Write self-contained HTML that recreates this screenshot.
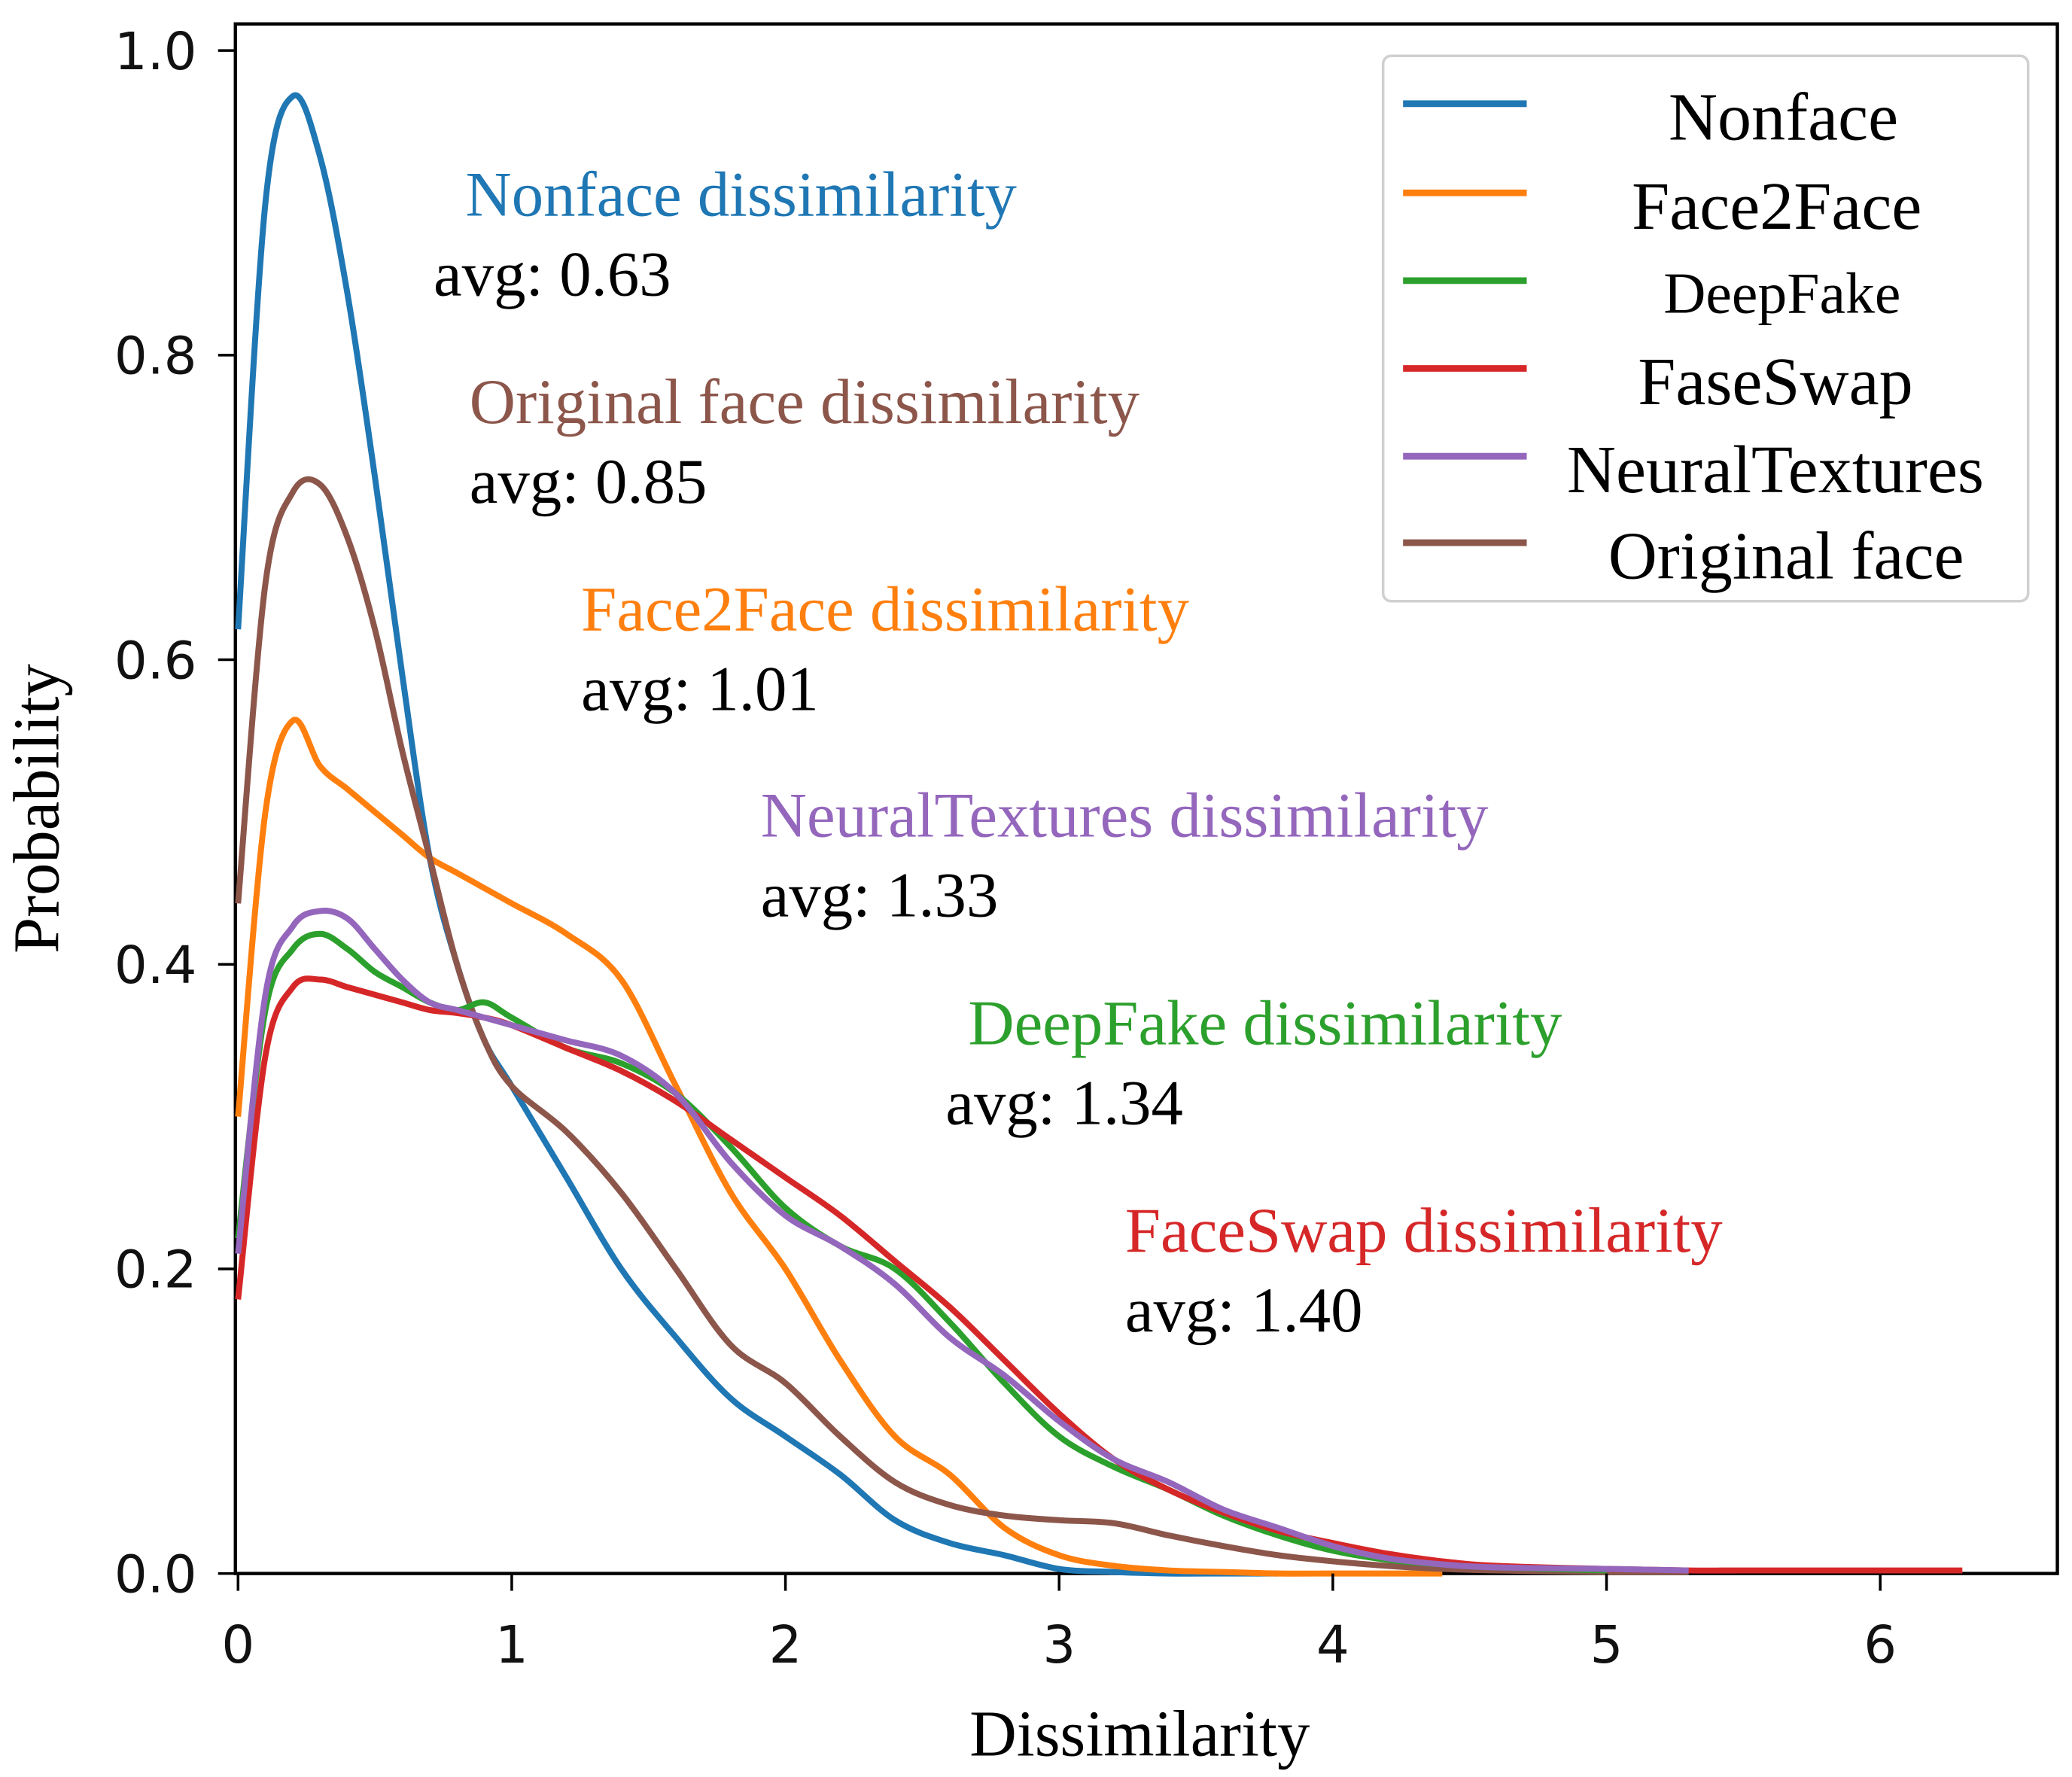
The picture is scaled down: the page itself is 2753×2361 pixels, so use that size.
<!DOCTYPE html>
<html><head><meta charset="utf-8"><style>html,body{margin:0;padding:0;background:#fff}svg{display:block}</style></head>
<body>
<svg id="chart" width="2753" height="2361" viewBox="0 0 1558 1336" preserveAspectRatio="none" xmlns="http://www.w3.org/2000/svg">
<g id="plot"></g>
</svg>
<script>
const xs = [0,0.1,0.2,0.3,0.4,0.5,0.6,0.7,0.8,0.9,1.0,1.2,1.4,1.6,1.8,2.0,2.2,2.4,2.6,2.8,3.0,3.2,3.4,3.6,3.8,4.0,4.2,4.4,4.6,5.0,5.3,5.5,6.0,6.3];
const nonface = [0.62,0.9,0.97,0.93,0.84,0.72,0.59,0.47,0.4,0.35,0.32,0.26,0.2,0.155,0.115,0.09,0.065,0.035,0.02,0.012,0.003,0.001,0,0,0];
const face2face = [0.3,0.5,0.56,0.53,0.515,0.5,0.485,0.47,0.46,0.45,0.44,0.42,0.39,0.32,0.25,0.2,0.14,0.09,0.065,0.03,0.012,0.005,0.002,0.001,0,0,0,0];
const deepfake = [0.22,0.37,0.41,0.42,0.41,0.395,0.385,0.375,0.37,0.375,0.365,0.345,0.335,0.315,0.28,0.24,0.215,0.2,0.165,0.125,0.09,0.07,0.055,0.038,0.025,0.015,0.009,0.006,0.004,0.002];
const faceswap = [0.18,0.34,0.385,0.39,0.385,0.38,0.375,0.37,0.368,0.365,0.36,0.345,0.33,0.31,0.285,0.26,0.235,0.205,0.175,0.14,0.105,0.075,0.055,0.04,0.028,0.02,0.013,0.008,0.005,0.003,0.002,0.002,0.002,0.002];
const neural = [0.21,0.38,0.425,0.435,0.43,0.41,0.39,0.375,0.37,0.365,0.36,0.35,0.34,0.315,0.27,0.235,0.215,0.19,0.155,0.13,0.1,0.075,0.06,0.042,0.03,0.018,0.01,0.006,0.004,0.003,0.002];
const original = [0.44,0.65,0.71,0.715,0.68,0.62,0.54,0.47,0.4,0.35,0.32,0.29,0.25,0.2,0.15,0.125,0.09,0.06,0.045,0.038,0.035,0.033,0.025,0.018,0.012,0.008,0.005,0.003,0.002,0.001,0.001];
const seriesNames = ["Nonface","Face2Face","DeepFake","FaseSwap","NeuralTextures","Original face"];
const xTicks = [0,1,2,3,4,5,6];
const yTicks = [0.0,0.2,0.4,0.6,0.8,1.0];

const NS="http://www.w3.org/2000/svg";
const g=document.getElementById('plot');
const X=v=>179+v*205.8, Y=v=>1183-v*1145;
function mk(tag,attrs,parent){const e=document.createElementNS(NS,tag);for(const k in attrs)e.setAttribute(k,attrs[k]);(parent||g).appendChild(e);return e;}
const colors=["#1f77b4","#ff7f0e","#2ca02c","#d62728","#9467bd","#8c564b"];
const data=[nonface,face2face,deepfake,faceswap,neural,original];
const slugs=["nonface","face2face","deepfake","faceswap","neuraltextures","original-face"];

let fr=mk('rect',{x:177,y:18,width:1370,height:1165,fill:'none',stroke:'#000','stroke-width':2.5});



function path(vals){
  const p=vals.map((v,i)=>[X(xs[i]),Y(v)]);
  let d=`M${p[0][0]},${p[0][1]}`;
  for(let i=0;i<p.length-1;i++){
    const p0=p[Math.max(0,i-1)],p1=p[i],p2=p[i+1],p3=p[Math.min(p.length-1,i+2)];
    const c1=[p1[0]+(p2[0]-p0[0])/6,p1[1]+(p2[1]-p0[1])/6];
    const c2=[p2[0]-(p3[0]-p1[0])/6,p2[1]-(p3[1]-p1[1])/6];
    d+=` C${c1[0]},${c1[1]} ${c2[0]},${c2[1]} ${p2[0]},${p2[1]}`;
  }
  return d;
}
[0,1,5,2,3,4].forEach(i=>{
  const e=mk('path',{d:path(data[i]),fill:'none',stroke:colors[i],'stroke-width':4.5,'stroke-linejoin':'round'});
  
  
});

xTicks.forEach(t=>{
  const l=mk('line',{x1:X(t),x2:X(t),y1:1183,y2:1196,stroke:'#000','stroke-width':2});
  
  
  const tx=mk('text',{x:X(t),y:1250,'text-anchor':'middle','font-family':'DejaVu Sans, Liberation Sans, sans-serif','font-size':39,fill:'#111'});
  tx.textContent=t;
  
  
});
yTicks.forEach(t=>{
  const l=mk('line',{x1:164,x2:177,y1:Y(t),y2:Y(t),stroke:'#000','stroke-width':2});
  
  
  const tx=mk('text',{x:148,y:Y(t)+14,'text-anchor':'end','font-family':'DejaVu Sans, Liberation Sans, sans-serif','font-size':39,fill:'#111'});
  tx.textContent=t.toFixed(1);
  
  
});
let xt=mk('text',{x:857,y:1320,'text-anchor':'middle','font-family':'Liberation Serif, serif','font-size':49});
xt.textContent='Dissimilarity';


let yt=mk('text',{x:0,y:0,transform:'translate(44,608) rotate(-90)','text-anchor':'middle','font-family':'Liberation Serif, serif','font-size':49});
yt.textContent='Probability';



const ann=[["Nonface dissimilarity","avg: 0.63",350,326,162,0],["Original face dissimilarity","avg: 0.85",353,353,318,5],["Face2Face dissimilarity","avg: 1.01",437,437,474,1],["NeuralTextures dissimilarity","avg: 1.33",572,572,629,4],["DeepFake dissimilarity","avg: 1.34",728,711,785,2],["FaceSwap dissimilarity","avg: 1.40",846,846,941,3]];
ann.forEach(a=>{
  const t=mk('text',{x:a[2],y:a[4],'font-family':'Liberation Serif, serif','font-size':48,fill:colors[a[5]]});
  t.textContent=a[0];
  
  
  const t2=mk('text',{x:a[3],y:a[4]+60,'font-family':'Liberation Serif, serif','font-size':48,fill:'#000'});
  t2.textContent=a[1];
  
  
});

let lg=mk('rect',{x:1040,y:42,width:485,height:410,rx:6,fill:'#fff',stroke:'#d0d0d0','stroke-width':2});


const ly=[78,145,211,277,343,408], lc=[1341,1336,1340,1335,1335,1343], fs=[51,51,44,51,51,51];
seriesNames.forEach((n,i)=>{
  const l=mk('line',{x1:1055,x2:1148,y1:ly[i],y2:ly[i],stroke:colors[i],'stroke-width':5});
  
  
  const t=mk('text',{x:lc[i],y:ly[i]+27-(i==2?3:0),'text-anchor':'middle','font-family':'Liberation Serif, serif','font-size':fs[i]});
  t.textContent=n;
  
  
});
</script>
</body></html>
